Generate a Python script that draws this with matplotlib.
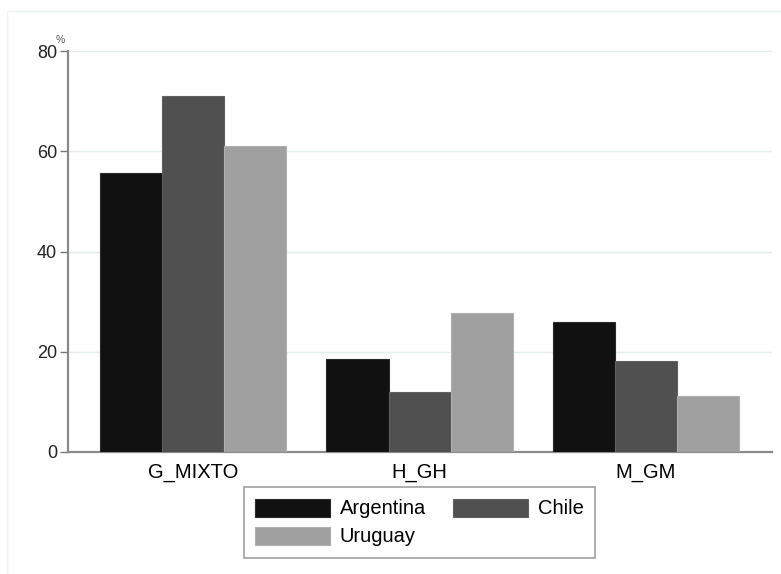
# -*- coding: utf-8 -*-

import numpy as np
import matplotlib
matplotlib.use('Agg')
import matplotlib.pyplot as plt
from matplotlib.patches import Rectangle

# 数据
categories = ['G_MIXTO', 'H_GH', 'M_GM']
countries = ['Argentina', 'Chile', 'Uruguay']
argentina = [55.6, 18.5, 26.0]
chile = [71.0, 11.9, 18.1]
uruguay = [61.0, 27.8, 11.2]
yticks = [0, 20, 40, 60, 80]

colors = ['#111111', '#505050', '#a0a0a0']
edges = ['#2a2a2a', '#606060', '#b0b0b0']

plt.rcParams['font.family'] = ['Liberation Sans', 'DejaVu Sans']

fig = plt.figure(figsize=(7.81, 5.74), dpi=100)
# 很淡的外框
fig.patches.append(Rectangle((7 / 781, -0.01), 1.0, 1 - 11 / 574 + 0.01,
                             transform=fig.transFigure, fill=False,
                             edgecolor='#eef3f3', linewidth=1))

ax = fig.add_axes([68 / 781, 1 - 452 / 574, (772 - 68) / 781, (452 - 51) / 574])

x = np.arange(len(categories))
w = 0.274
bars = []
for i, (vals, name) in enumerate(zip([argentina, chile, uruguay], countries)):
    b = ax.bar(x + (i - 1) * w, vals, w, color=colors[i], edgecolor=edges[i],
               linewidth=0.8, label=name, zorder=3)
    bars.append(b)

ax.set_xlim(-0.552, 2.556)
ax.set_ylim(0, 80)
ax.set_yticks(yticks)
ax.set_xticks(x)
ax.set_xticklabels(categories, fontsize=14.5)
ax.tick_params(axis='x', length=0, pad=8)
ax.tick_params(axis='y', length=6, width=1, color='#777777', labelsize=13,
               labelcolor='#222222', pad=2)

# 网格线
ax.grid(axis='y', color='#e4eeee', linewidth=1, zorder=0)
ax.set_axisbelow(True)

for s in ['top', 'right']:
    ax.spines[s].set_visible(False)
ax.spines['left'].set_color('#8a8a8a')
ax.spines['left'].set_linewidth(1.6)
ax.spines['bottom'].set_color('#8a8a8a')
ax.spines['bottom'].set_linewidth(1.6)

# 单位 %
fig.text(60 / 781, 1 - 40 / 574, '%', fontsize=7.5, color='#555555',
         ha='center', va='center')

# 图例: 第一行 Argentina, Chile; 第二行 Uruguay
order = [0, 2, 1]
leg = fig.legend([bars[k] for k in order], [countries[k] for k in order],
                 loc='center', bbox_to_anchor=(0.537, 0.0897), ncol=2,
                 fontsize=14.5, frameon=True, fancybox=False,
                 handlelength=3.7, handleheight=1.0, handletextpad=0.5,
                 columnspacing=1.35, labelspacing=0.4, borderpad=0.55)
leg.get_frame().set_edgecolor('#888888')
leg.get_frame().set_linewidth(1.2)

plt.savefig('out.png', dpi=100)
